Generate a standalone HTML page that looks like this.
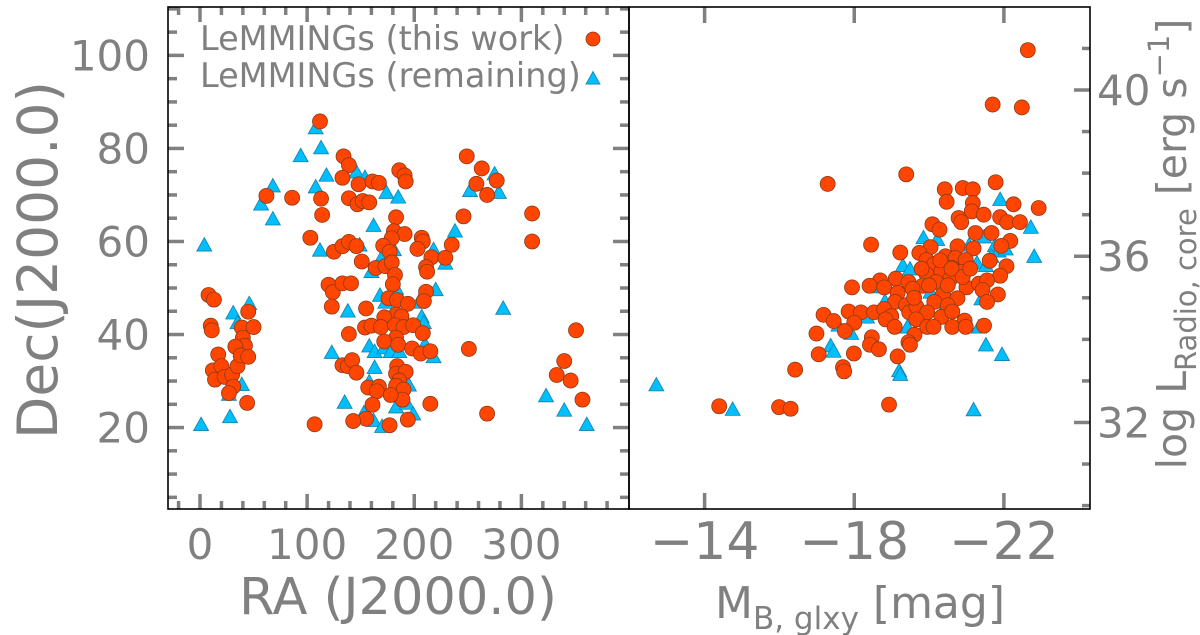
<!DOCTYPE html>
<html><head><meta charset="utf-8"><style>
html,body{margin:0;padding:0;background:#fff;}
svg{display:block;font-family:"DejaVu Sans","Liberation Sans",sans-serif;}
</style></head><body>
<svg id="chart" width="1200" height="635" viewBox="0 0 1200 635" xmlns="http://www.w3.org/2000/svg">
<g id="left"></g>
<g id="right"></g>
</svg>
<script>
// ---- Left panel data (RA, Dec) ----
const leftThisRA = [112,134,139,133,148,161,167,139,147,152,158,113,86,62,114,186,191,192,249,263,258,277,268,246,310,310,103,125,133,139,146,151,183,181,191,179,171,177,164,173,179,182,180,207,208,203,216,229,235,211,212,211,209,120,124,133,141,123,155,139,176,184,194,183,188,172,154,160,169,182,190,199,208,183,172,185,198,206,215,133,138,142,146,184,183,192,186,183,190,189,157,167,165,178,161,215,194,177,155,143,107,268,251,351,340,333,346,357,8,13,10,11,17,12,20,14,23,30,35,31,27,39,40,42,33,38,45,45,50,44];
const leftThisDec = [85.8,78.3,76.4,73.7,72.3,72.9,72.6,69.3,68,68.7,68.4,69.2,69.4,69.8,65.7,75.3,74.2,72.9,78.3,75.7,72.4,73.1,70,65.4,66,60,60.8,57.8,59,59.9,59,55.7,65.2,62.2,61.6,60.7,59.1,57.8,54.3,54.7,55.5,52.8,50.8,60.8,60,58.4,56.6,56.5,59.3,54.5,53.5,49.2,47.2,50.7,49.1,51,51,46,45.6,40.1,47.8,47.4,46.6,44.3,43.9,43.7,41.5,41.9,41.6,42,41.6,42,40.3,39.3,38.5,37.8,37,35.9,36.4,33.4,33.2,34.5,31.8,33.2,31.6,32,30.1,29,28.2,26,28.6,28.8,27.8,27,24.9,25.1,21.7,20.5,21.9,21.4,20.7,23,36.9,40.9,34.3,31.3,30.1,26,48.5,47.5,41.9,40.9,35.7,32.3,33.2,30.3,30.9,31.4,33.2,28.8,27.4,41.5,39.3,37.6,37.4,35.5,35.2,44.9,41.6,25.3];
const leftRemRA = [1,4,28,27,31,35,39,46,33,57,68,68,94,108,113,108,118,112,146,154,174,185,162,149,160,170,181,168,173,183,204,207,220,209,210,218,138,123,158,163,172,178,186,163,158,195,135,153,162,170,183,193,199,229,238,218,252,275,279,283,323,340,361];
const leftRemDec = [20.5,59.1,22.2,27,44.5,42.4,29.1,46.5,33.2,67.9,71.8,64.7,78.3,84.3,80,71.6,74.1,58,74.8,73.6,70.4,69.4,63.3,59.1,53.4,56.6,58.1,48.3,46.8,49.8,46.8,43.7,49.5,42.4,37.8,35.1,44.9,36,37.4,36.2,37,36.2,36.2,32.8,29.7,29,25.3,23,21.4,20.1,24.3,25.1,22.8,55.2,62.1,58.1,70.8,74.4,70.4,45.5,26.7,23.6,20.5];
const leftXTicks = [0,100,200,300];
const leftYTicks = [20,40,60,80,100];

// ---- Right panel data (M_B, log L) ----
const rightThisM = [-22.64,-21.70,-22.48,-17.29,-19.39,-21.78,-20.42,-20.90,-21.17,-20.47,-22.26,-22.93,-21.17,-21.14,-21.46,-20.79,-20.86,-21.90,-22.09,-22.43,-20.09,-20.28,-21.24,-21.67,-22.17,-21.93,-18.45,-19.23,-20.04,-19.74,-20.76,-21.19,-20.44,-19.93,-20.14,-20.71,-20.98,-21.62,-22.07,-19.93,-20.33,-20.62,-20.86,-21.90,-18.69,-19.11,-19.45,-19.83,-20.19,-20.57,-21.00,-21.33,-21.55,-17.94,-18.41,-18.80,-19.16,-19.56,-20.37,-20.76,-21.43,-21.84,-19.09,-19.38,-20.14,-20.50,-21.55,-17.18,-17.45,-17.85,-18.18,-18.53,-18.80,-18.99,-19.47,-19.66,-19.95,-20.33,-20.62,-20.95,-18.0,-17.75,-18.84,-19.08,-19.66,-19.95,-20.12,-20.62,-20.98,-21.47,-16.99,-18.47,-18.42,-18.66,-19.61,-19.45,-19.49,-17.05,-17.99,-19.16,-16.42,-17.70,-17.73,-14.39,-15.99,-16.30,-18.93,-20.3,-20.6,-20.9,-19.8,-20.0,-21.1,-19.6,-20.5];
const rightThisL = [40.96,39.65,39.58,37.74,37.97,37.78,37.61,37.64,37.61,37.31,37.25,37.16,37.28,37.08,37.0,36.92,36.82,36.94,36.82,36.82,36.77,36.64,36.56,36.56,36.37,36.25,36.28,36.09,36.22,36.08,36.24,36.19,36.0,35.91,35.81,35.96,35.91,35.89,35.76,35.57,35.64,35.72,35.62,35.53,35.42,35.46,35.38,35.29,35.38,35.46,35.25,35.34,35.42,35.25,35.29,35.25,35.12,35.22,35.08,34.99,35.19,35.08,34.90,34.82,34.90,34.82,34.90,34.59,34.44,34.67,34.65,34.65,34.73,34.56,34.65,34.79,34.65,34.54,34.67,34.45,34.40,34.20,34.48,34.30,34.48,34.30,34.30,34.30,34.30,34.33,34.14,34.05,33.87,33.76,34.11,33.93,33.87,33.64,33.66,33.59,33.27,33.33,33.23,32.39,32.37,32.33,32.43,35.9,35.7,35.5,35.7,35.3,35.7,35.0,35.3];
const rightRemM = [-12.71,-14.75,-17.37,-17.45,-17.58,-17.92,-18.34,-18.61,-18.82,-19.30,-19.49,-19.20,-19.23,-19.42,-19.85,-20.22,-19.97,-20.04,-20.37,-20.57,-21.07,-21.28,-21.40,-21.52,-21.76,-21.86,-22.05,-21.67,-21.90,-22.72,-22.81,-21.33,-21.52,-21.95,-21.19,-21.47];
const rightRemL = [32.89,32.30,33.83,33.70,34.33,34.13,34.52,35.25,34.90,35.76,35.68,33.23,33.14,34.28,36.43,36.39,35.46,35.12,34.69,34.90,36.25,35.82,34.96,35.76,36.24,36.11,36.16,35.98,37.35,36.68,35.98,34.28,33.85,33.62,32.29,36.45];
const rightXTicks = [-14,-18,-22];
const rightYTicks = [32,36,40];

const NS = 'http://www.w3.org/2000/svg';
const GRAY = '#808080';
function mk(parent, tag, attrs){ const e=document.createElementNS(NS,tag); for(const k in attrs) e.setAttribute(k,attrs[k]); parent.appendChild(e); return e; }

const L = {x0:168, x1:629, y0:7, y1:509};
const R = {x0:629, x1:1090, y0:7, y1:509};
const lx = v => 200 + v*1.0713;
const ly = v => 55.4 + (100 - v)*4.652;
const rx = v => 704.6 + (-14 - v)*37.41;
const ry = v => 90 + (40 - v)*41.56;

const left = document.getElementById('left');
const right = document.getElementById('right');

function tick(g,x1,y1,x2,y2,w){ const t=mk(g,'line',{x1,y1,x2,y2,stroke:GRAY,'stroke-width':w||3.5});

 }

for(let v=-20; v<=400; v+=20){ const x=lx(v); if(x<=L.x0+1||x>=L.x1-1) continue; const len = (v%100===0)?15:8;
  tick(left,x,L.y1,x,L.y1-len); tick(left,x,L.y0,x,L.y0+len); }
for(let v=5; v<=110; v+=5){ const y=ly(v); if(y<=L.y0+1||y>=L.y1-1) continue; const len=(v%20===0)?16:9;
  tick(left,L.x0,y,L.x0+len,y); tick(left,L.x1,y,L.x1-len,y); }
rightXTicks.forEach(v=>{ const x=rx(v); tick(right,x,R.y1,x,R.y1-16); tick(right,x,R.y0,x,R.y0+16); });
for(let v=30; v<=42; v++){ const y=ry(v); if(y<=R.y0+1||y>=R.y1-1) continue; const len=(v%4===0)?16:8; tick(right,R.x1,y,R.x1-len,y); }

function circle(g,x,y,r){ const c=mk(g,'circle',{cx:x,cy:y,r:r,fill:'#ff4500',stroke:'#8a3a1a','stroke-width':0.8});

 return c; }
function tri(g,x,y,s){ const h=s*0.9; const p=mk(g,'polygon',{points:`${x},${y-h*0.6} ${x-s/2},${y+h*0.4} ${x+s/2},${y+h*0.4}`,fill:'#00bfff',stroke:'#1a7fa8','stroke-width':0.8});

 return p; }

leftRemRA.forEach((v,i)=>tri(left,lx(v),ly(leftRemDec[i]),15));
leftThisRA.forEach((v,i)=>circle(left,lx(v),ly(leftThisDec[i]),7.5));
rightRemM.forEach((v,i)=>tri(right,rx(v),ry(rightRemL[i]),15));
rightThisM.forEach((v,i)=>circle(right,rx(v),ry(rightThisL[i]),7.5));

const f1=mk(left,'rect',{x:L.x0,y:L.y0,width:L.x1-L.x0,height:L.y1-L.y0,fill:'none',stroke:'#000','stroke-width':1.6});


const f2=mk(right,'rect',{x:R.x0,y:R.y0,width:R.x1-R.x0,height:R.y1-R.y0,fill:'none',stroke:'#000','stroke-width':1.6});



function text(g,x,y,str,size,anchor,name,extra){ const t=mk(g,'text',Object.assign({x,y,'font-size':size,fill:GRAY,'text-anchor':anchor||'middle'},extra||{})); t.textContent=str;

 return t; }

leftXTicks.forEach(v=>text(left,lx(v),559,String(v),42,'middle','x-tick-label'));
leftYTicks.forEach(v=>text(left,150,ly(v)+15,String(v),42,'end','y-tick-label'));
rightXTicks.forEach(v=>text(right,rx(v),559,'\u2212'+Math.abs(v),52,'middle','x-tick-label'));
rightYTicks.forEach(v=>text(right,1097,ry(v)+15,String(v),42,'start','y-tick-label'));

text(left,398,614,'RA (J2000.0)',51,'middle','x-axis-title');
text(left,0,0,'Dec(J2000.0)',55,'middle','y-axis-title',{transform:'translate(57,260) rotate(-90)'});

const mt=text(right,860,618,'',44,'middle','x-axis-title');
mt.innerHTML='M<tspan font-size="31" dy="11">B, glxy</tspan><tspan dy="-11"> [mag]</tspan>';
const yt=text(right,0,0,'',41,'middle','y-axis-title',{transform:'translate(1186,244) rotate(-90)'});
yt.innerHTML='log L<tspan font-size="29" dy="10">Radio, core</tspan><tspan dy="-10"> [erg s</tspan><tspan font-size="29" dy="-17">\u22121</tspan><tspan dy="17">]</tspan>';

const lg=mk(left,'g',{});


text(lg,200,50,'LeMMINGs (this work)',33.5,'start','legend-label-this-work');
text(lg,200,87,'LeMMINGs (remaining)',33.5,'start','legend-label-remaining');
circle(lg,593,39,7);
tri(lg,593,79,14);
</script>
</body></html>
